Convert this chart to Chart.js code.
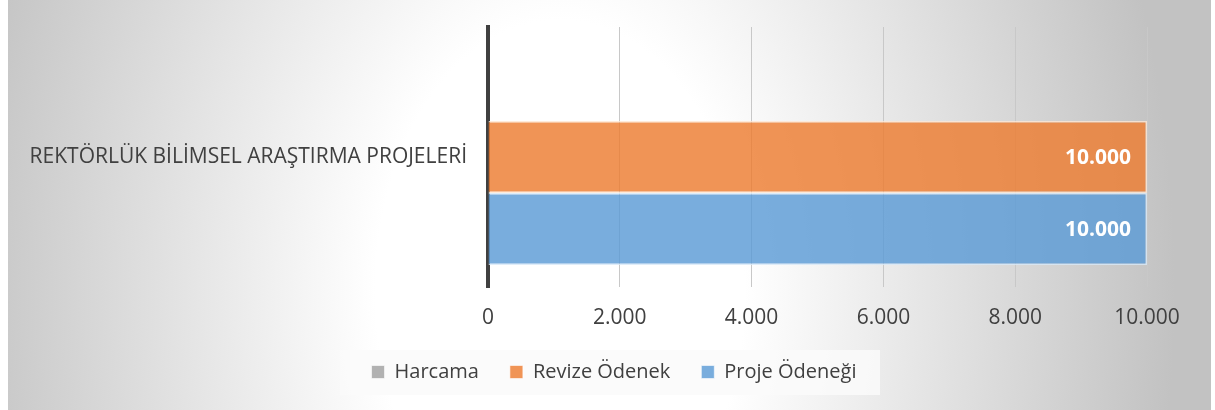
<!DOCTYPE html>
<html>
<head>
<meta charset="utf-8">
<script src="https://cdn.jsdelivr.net/npm/chart.js@4/dist/chart.umd.min.js"></script>
<style>
    html, body { margin: 0; padding: 0; background: #ffffff; }
    #wrap {
        position: absolute; left: 8px; top: 0; width: 1203px; height: 410px;
        background: radial-gradient(ellipse 615px 900px at 552px 290px, #ffffff 0%, #ffffff 30%, #c2c2c2 100%);
    }
    canvas { display: block; }
</style>
</head>
<body>
<div id="wrap"><canvas id="harcama" width="1203" height="410"></canvas></div>
<script>
var categories = ['REKTÖRLÜK BİLİMSEL ARAŞTIRMA PROJELERİ'];
var harcama = [0];
var revizeOdenek = [10000];
var projeOdenegi = [10000];
var xTicks = [0, 2000, 4000, 6000, 8000, 10000];

var textColor = '#404040';

function trNumber(v) {
    return String(v).replace(/\B(?=(\d{3})+(?!\d))/g, '.');
}

// put the legend where the office chart has it (centre 606, text middle 372)
var legendPlace = {
    id: 'legendPlace',
    afterLayout: function (chart) {
        var lg = chart.legend;
        var dx = 606 - (lg.left + lg.right) / 2;
        lg.left += dx;
        lg.right += dx;
        var top = 372 - lg.options.labels.padding - 10;
        lg.bottom += top - lg.top;
        lg.top = top;
    },
    beforeDraw: function (chart) {
        // light band behind the legend
        var lg = chart.legend;
        var cx = (lg.left + lg.right) / 2;
        var ctx = chart.ctx;
        ctx.save();
        ctx.fillStyle = 'rgba(250,250,250,0.85)';
        ctx.fillRect(cx - 274, 350, 540, 45);
        ctx.restore();
    }
};

// white value labels at the end of each bar
var barLabels = {
    id: 'barLabels',
    afterDatasetsDraw: function (chart) {
        var ctx = chart.ctx;
        ctx.save();
        ctx.font = 'bold 21px "Open Sans"';
        ctx.fillStyle = '#ffffff';
        ctx.textAlign = 'right';
        ctx.textBaseline = 'middle';
        chart.data.datasets.forEach(function (ds, i) {
            chart.getDatasetMeta(i).data.forEach(function (bar, j) {
                if (!ds.data[j]) return;
                ctx.fillText(trNumber(ds.data[j]), bar.x - 16, bar.y + 1);
            });
        });
        ctx.restore();
    }
};

var config = {
    type: 'bar',
    data: {
        labels: categories,
        datasets: [
            {
                label: 'Harcama',
                backgroundColor: 'rgba(165,165,165,0.85)',
                borderColor: 'rgba(255,255,255,0.5)',
                borderWidth: 0,
                data: harcama
            },
            {
                label: 'Revize Ödenek',
                backgroundColor: 'rgba(237,125,49,0.82)',
                borderColor: 'rgba(255,230,210,0.8)',
                borderWidth: 1.5,
                data: revizeOdenek
            },
            {
                label: 'Proje Ödeneği',
                backgroundColor: 'rgba(91,155,213,0.82)',
                borderColor: 'rgba(215,232,248,0.8)',
                borderWidth: 1.5,
                data: projeOdenegi
            }
        ]
    },
    options: {
        indexAxis: 'y',
        responsive: false,
        animation: false,
        categoryPercentage: 0.83,
        barPercentage: 1,
        layout: {
            padding: { left: 12, right: 64, top: 27, bottom: 0 }
        },
        scales: {
            x: {
                min: 0,
                max: 10000,
                afterBuildTicks: function (scale) {
                    scale.ticks = xTicks.map(function (v) { return { value: v }; });
                },
                afterFit: function (scale) { scale.height = 64; },
                border: { display: false },
                grid: {
                    color: '#c8c8c8',
                    lineWidth: 1,
                    drawTicks: false
                },
                ticks: {
                    padding: 18,
                    color: textColor,
                    font: { family: '"Open Sans"', size: 21 },
                    maxRotation: 0,
                    callback: function (v) { return trNumber(v); }
                }
            },
            y: {
                afterFit: function (scale) {
                    scale.width = 468;
                    scale.paddingTop = 0;
                    scale.paddingBottom = 0;
                },
                border: { display: true, color: '#404040', width: 4 },
                grid: { display: false, drawTicks: false },
                ticks: {
                    padding: 21,
                    color: textColor,
                    font: { family: '"Open Sans"', size: 21 }
                }
            }
        },
        plugins: {
            legend: {
                position: 'bottom',
                maxHeight: 59,
                labels: {
                    boxWidth: 13,
                    boxHeight: 13,
                    padding: 31,
                    color: textColor,
                    font: { family: '"Open Sans"', size: 20 },
                    generateLabels: function (chart) {
                        var items = Chart.defaults.plugins.legend.labels.generateLabels(chart);
                        items.forEach(function (it) {
                            it.lineWidth = 1;
                            it.strokeStyle = 'rgba(255,255,255,0.6)';
                        });
                        return items;
                    }
                }
            },
            tooltip: { enabled: false }
        }
    },
    plugins: [legendPlace, barLabels]
};

const graphic = new Chart(document.getElementById('harcama'), config);
</script>
</body>
</html>
